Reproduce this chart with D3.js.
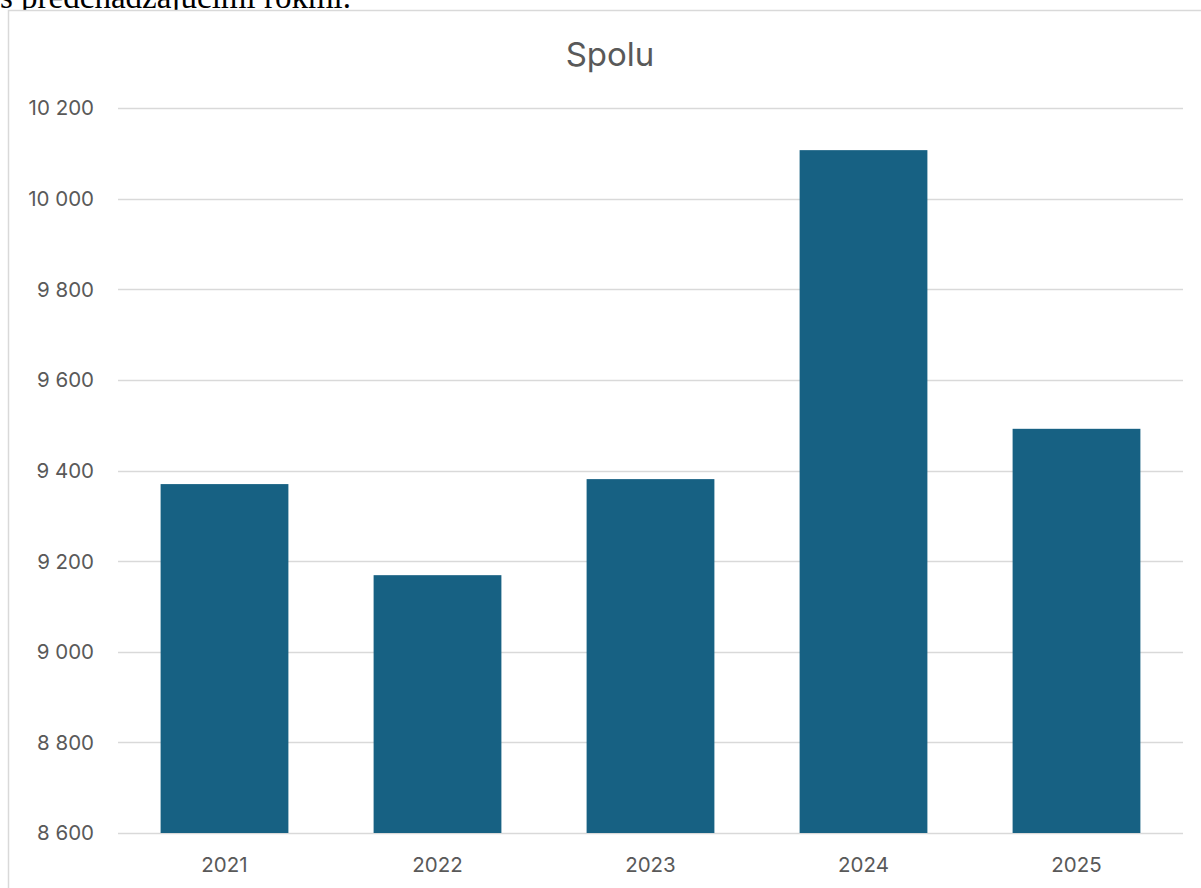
<!DOCTYPE html>
<html>
<head>
<meta charset="utf-8">
<script src="https://cdn.jsdelivr.net/npm/d3@7"></script>
<style>
  html, body { margin: 0; padding: 0; background: #fff; overflow: hidden; }
  svg { display: block; }
</style>
</head>
<body>
<svg id="chart" width="1201" height="888"></svg>
<script>
const categories = ["2021", "2022", "2023", "2024", "2025"];
const values = [9370, 9169, 9381, 10107, 9492];
const yTicks = [8600, 8800, 9000, 9200, 9400, 9600, 9800, 10000, 10200];
const title = "Spolu";
const precedingText = "s predchádzajúcimi rokmi.";

(function () {
const svg = d3.select("#chart");
const fontSans = "Inter, 'Open Sans', Roboto, sans-serif";
const textColor = "#595959";

// preceding document text (cropped at top, as in the reference)
svg.append("text")
  .attr("x", 0).attr("y", 7.5)
  .attr("font-family", "'Liberation Serif', 'Times New Roman', serif")
  .attr("font-size", 33)
  .attr("fill", "#000")
  .text(precedingText);

// chart frame
svg.append("rect")
  .attr("x", 8.5).attr("y", 10.5)
  .attr("width", 1210).attr("height", 900)
  .attr("fill", "#fff")
  .attr("stroke", "#d9d9d9")
  .attr("stroke-width", 1.5);

const pLeft = 118, pRight = 1183, pTop = 108, pBottom = 833;

const x = d3.scaleBand().domain(categories).range([pLeft, pRight])
  .paddingInner(0.4).paddingOuter(0.2);
const y = d3.scaleLinear().domain([8600, 10200]).range([pBottom, pTop]);

// gridlines
svg.append("g").selectAll("line").data(yTicks).join("line")
  .attr("x1", pLeft).attr("x2", pRight)
  .attr("y1", d => Math.round(y(d)) + 0.5).attr("y2", d => Math.round(y(d)) + 0.5)
  .attr("stroke", "#d9d9d9").attr("stroke-width", 1.5);

// y tick labels
const fmt = d => d3.format(",")(d).replace(/,/g, "\u00a0");
svg.append("g").selectAll("text").data(yTicks).join("text")
  .attr("x", 94).attr("y", d => y(d))
  .attr("dy", "0.36em")
  .attr("text-anchor", "end")
  .attr("font-family", fontSans).attr("font-size", 20.5)
  .attr("fill", textColor)
  .text(fmt);

// bars
svg.append("g").selectAll("rect").data(values).join("rect")
  .attr("x", (d, i) => x(categories[i]))
  .attr("width", x.bandwidth())
  .attr("y", d => y(d))
  .attr("height", d => y(8600) - y(d))
  .attr("fill", "#176183");

// x labels
svg.append("g").selectAll("text").data(categories).join("text")
  .attr("x", d => x(d) + x.bandwidth() / 2)
  .attr("y", 872)
  .attr("text-anchor", "middle")
  .attr("font-family", fontSans).attr("font-size", 20.5)
  .attr("fill", textColor)
  .text(d => d);

// title
svg.append("text")
  .attr("x", 610).attr("y", 66)
  .attr("text-anchor", "middle")
  .attr("font-family", fontSans).attr("font-size", 33)
  .attr("fill", textColor)
  .text(title);
})();
</script>
</body>
</html>
